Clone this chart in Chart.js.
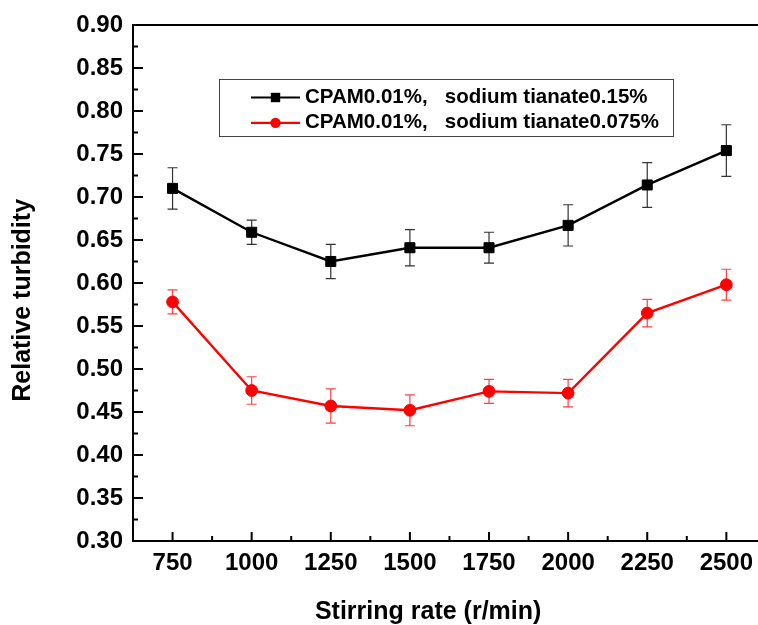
<!DOCTYPE html>
<html>
<head>
<meta charset="utf-8">
<script src="https://cdn.jsdelivr.net/npm/chart.js@4.4.1/dist/chart.umd.min.js"></script>
<style>
  html, body { margin: 0; padding: 0; background: #fff; }
</style>
</head>
<body>
<canvas id="turbidityChart" width="758" height="625"></canvas>
<script>
// stirring rate (r/min)
const stirringRates = [750, 1000, 1250, 1500, 1750, 2000, 2250, 2500];
// CPAM 0.01%, sodium tianate 0.15%
const turbidityHigh = [0.710, 0.659, 0.625, 0.641, 0.641, 0.667, 0.714, 0.754];
const errorHigh = [0.024, 0.014, 0.020, 0.021, 0.018, 0.024, 0.026, 0.030];
// CPAM 0.01%, sodium tianate 0.075%
const turbidityLow = [0.578, 0.475, 0.457, 0.452, 0.474, 0.472, 0.565, 0.598];
const errorLow = [0.014, 0.016, 0.020, 0.018, 0.014, 0.016, 0.016, 0.018];
const yTickValues = [0.30, 0.35, 0.40, 0.45, 0.50, 0.55, 0.60, 0.65, 0.70, 0.75, 0.80, 0.85, 0.90];
const seriesLabels = ['CPAM0.01%,   sodium tianate0.15%', 'CPAM0.01%,   sodium tianate0.075%'];

const FONT = '"Liberation Sans", Arial, sans-serif';
Chart.defaults.font.family = FONT;
Chart.defaults.color = '#000';

// error bars under the markers
const errorBars = {
    id: 'errorBars',
    beforeDatasetsDraw(chart) {
        const { ctx, scales: { x, y } } = chart;
        chart.data.datasets.forEach(ds => {
            ctx.save();
            ctx.strokeStyle = ds.errorColor;
            ctx.lineWidth = 1.2;
            ctx.beginPath();
            ds.data.forEach((p, i) => {
                const px = x.getPixelForValue(p.x);
                const top = y.getPixelForValue(p.y + ds.errors[i]);
                const bot = y.getPixelForValue(p.y - ds.errors[i]);
                ctx.moveTo(px, top); ctx.lineTo(px, bot);
                ctx.moveTo(px - 5, top); ctx.lineTo(px + 5, top);
                ctx.moveTo(px - 5, bot); ctx.lineTo(px + 5, bot);
            });
            ctx.stroke();
            ctx.restore();
        });
    }
};

// top frame line + inward major/minor ticks
const frameTicks = {
    id: 'frameTicks',
    afterDraw(chart) {
        const { ctx, chartArea: a, scales: { x, y } } = chart;
        ctx.save();
        ctx.strokeStyle = '#000';
        ctx.lineWidth = 2;
        ctx.beginPath();
        ctx.moveTo(a.left - 1, a.top);
        ctx.lineTo(chart.width, a.top);
        yTickValues.forEach((v, i) => {
            const py = y.getPixelForValue(v);
            ctx.moveTo(a.left, py); ctx.lineTo(a.left + 10, py);
            if (i < yTickValues.length - 1) {
                const pm = y.getPixelForValue((v + yTickValues[i + 1]) / 2);
                ctx.moveTo(a.left, pm); ctx.lineTo(a.left + 5, pm);
            }
        });
        stirringRates.forEach(v => {
            const px = x.getPixelForValue(v);
            ctx.moveTo(px, a.bottom); ctx.lineTo(px, a.bottom - 9);
            const pm = x.getPixelForValue(v + 125);
            if (pm < a.right) { ctx.moveTo(pm, a.bottom); ctx.lineTo(pm, a.bottom - 5); }
        });
        ctx.stroke();
        ctx.restore();
    }
};

// boxed legend inside the plot, line + marker samples
const boxLegend = {
    id: 'boxLegend',
    afterDraw(chart) {
        const { ctx, chartArea: a } = chart;
        const left = a.left + 86, top = a.top + 54;
        ctx.save();
        ctx.strokeStyle = '#444';
        ctx.lineWidth = 1;
        ctx.strokeRect(left + 0.5, top + 0.5, 454, 57);
        chart.data.datasets.forEach((ds, i) => {
            const ly = top + 18.5 + i * 25.4;
            ctx.strokeStyle = ds.borderColor;
            ctx.fillStyle = ds.borderColor;
            ctx.lineWidth = 2.2;
            ctx.beginPath();
            ctx.moveTo(left + 32, ly); ctx.lineTo(left + 81, ly);
            ctx.stroke();
            const cx = left + 56.5;
            if (ds.pointStyle === 'rect') {
                ctx.fillRect(cx - 4.7, ly - 4.7, 9.4, 9.4);
            } else {
                ctx.beginPath();
                ctx.arc(cx, ly, 5.2, 0, Math.PI * 2);
                ctx.fill();
            }
            ctx.fillStyle = '#000';
            ctx.font = 'bold 20.5px ' + FONT;
            ctx.textBaseline = 'alphabetic';
            ctx.fillText(ds.label, left + 86, top + 23.7 + i * 25.6);
        });
        ctx.restore();
    }
};

const toPoints = (vals) => vals.map((v, i) => ({ x: stirringRates[i], y: v }));

new Chart(document.getElementById('turbidityChart'), {
    type: 'line',
    data: {
        datasets: [{
            label: seriesLabels[0],
            data: toPoints(turbidityHigh),
            errors: errorHigh,
            errorColor: '#333',
            borderColor: '#000',
            backgroundColor: '#000',
            borderWidth: 2.4,
            pointStyle: 'rect',
            pointRadius: 7.1,
            pointBorderWidth: 1,
            tension: 0
        }, {
            label: seriesLabels[1],
            data: toPoints(turbidityLow),
            errors: errorLow,
            errorColor: 'rgba(255,0,0,0.75)',
            borderColor: '#ff0000',
            backgroundColor: '#ff0000',
            borderWidth: 2.4,
            pointStyle: 'circle',
            pointRadius: 5.9,
            pointBorderWidth: 1,
            tension: 0
        }]
    },
    options: {
        responsive: false,
        animation: false,
        layout: { autoPadding: false, padding: { top: 25, right: 0, bottom: 0, left: 0 } },
        plugins: {
            legend: { display: false },
            tooltip: { enabled: false }
        },
        scales: {
            x: {
                type: 'linear',
                min: 625,
                max: 2600,
                afterBuildTicks: s => { s.ticks = stirringRates.map(v => ({ value: v })); },
                afterFit: s => { s.height = 84; s.paddingLeft = 0; s.paddingRight = 0; },
                grid: { display: false, drawTicks: false },
                border: { display: true, color: '#000', width: 2 },
                ticks: {
                    color: '#000',
                    font: { size: 24, weight: 'bold' },
                    padding: 8,
                    maxRotation: 0,
                    autoSkip: false,
                    callback: v => String(v)
                },
                title: {
                    display: true,
                    text: 'Stirring rate (r/min)     ',
                    color: '#000',
                    font: { size: 25, weight: 'bold', lineHeight: 1 },
                    padding: 0
                }
            },
            y: {
                min: 0.3,
                max: 0.9,
                afterBuildTicks: s => { s.ticks = yTickValues.map(v => ({ value: v })); },
                afterFit: s => { s.width = 133; },
                grid: { display: false, drawTicks: false },
                border: { display: true, color: '#000', width: 2 },
                ticks: {
                    color: '#000',
                    font: { size: 24, weight: 'bold' },
                    padding: 10,
                    callback: v => v.toFixed(2)
                },
                title: {
                    display: true,
                    text: 'Relative turbidity     ',
                    color: '#000',
                    font: { size: 25, weight: 'bold', lineHeight: 1.2 },
                    padding: { top: 8, bottom: 0 }
                }
            }
        }
    },
    plugins: [errorBars, frameTicks, boxLegend]
});
</script>
</body>
</html>
